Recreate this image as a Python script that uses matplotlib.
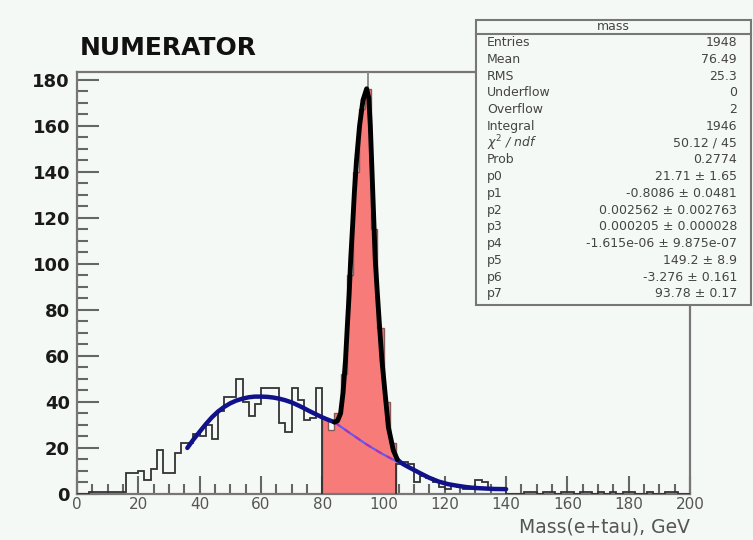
import matplotlib
matplotlib.use('Agg')
import matplotlib.pyplot as plt
from matplotlib.patches import Rectangle
from matplotlib.ticker import MultipleLocator
import numpy as np

plt.rcParams['font.family'] = ['DejaVu Sans']

# histogram "mass": 100 bins of 2 GeV from 0 to 200
bin_edges = np.arange(0, 202, 2)
counts = [0, 0, 1, 1, 1, 1, 1, 1,
          9, 9, 10, 6, 11, 19, 9, 9, 18, 22, 22, 26,
          25, 30, 24, 36, 42, 42, 50, 40, 34, 39, 46, 46, 46, 31, 27, 46, 41, 32, 33, 46,
          33, 28, 35, 52, 95, 140, 167, 176, 115, 72, 40, 22,
          13, 14, 13, 5, 8, 7, 5, 3, 2, 4, 3, 2, 2, 6, 5, 2, 2, 2,
          0, 0, 0, 1, 1, 0, 1, 1, 0, 1, 1, 0, 1, 1, 0, 1, 0, 1, 0, 1,
          1, 0, 0, 1, 0, 0, 1, 1, 0, 0]
peak_lo, peak_hi = 80, 104   # filled region

# fit curve
bg_fit_x = [36, 38, 40, 42, 44, 46, 48, 50, 52, 54, 56, 58, 60, 62, 64, 66, 68,
            70, 72, 74, 76, 78, 80, 82, 84]
bg_fit_y = [20, 23.7, 27, 30.3, 33.3, 35.8, 37.8, 39.4, 40.6, 41.4, 42, 42.3, 42.3,
            42.2, 41.9, 41.4, 40.7, 39.8, 38.6, 37.3, 35.9, 34.6, 33.3, 32.2, 31.2]
peak_fit_x = [84, 85, 86, 86.8, 87.6, 88.2, 88.8, 89.3, 89.9, 90.5, 91.2, 92.2, 93.3,
              94.5, 95.2, 95.7, 96.5, 97.3, 98.0, 98.7, 99.5, 100.5, 101.6, 103.2, 104.5]
peak_fit_y = [31.2, 31.8, 35, 44, 58, 73, 87, 102, 116, 131, 145, 160, 171,
              176, 172, 160, 131, 102, 87, 73, 58, 44, 29, 19, 15]
tail_fit_x = [104.5, 106, 108, 110, 112, 115, 118, 121, 124, 127, 130, 133, 136, 140]
tail_fit_y = [15, 13.3, 11.8, 10.4, 9, 7, 5.4, 4.3, 3.6, 3.0, 2.6, 2.4, 2.2, 2.1]
under_x = [84, 89, 94.5, 99.5, 104.5]
under_y = [31.2, 26.5, 21.5, 17.5, 14]

stat_labels = ['Entries', 'Mean', 'RMS', 'Underflow', 'Overflow', 'Integral',
               r'$\chi^{2}$ / ndf', 'Prob', 'p0', 'p1', 'p2', 'p3', 'p4', 'p5', 'p6', 'p7']
stat_values = ['1948', '76.49', '25.3', '0', '2', '1946', '50.12 / 45', '0.2774',
               '21.71 ± 1.65', '-0.8086 ± 0.0481', '0.002562 ± 0.002763',
               '0.000205 ± 0.000028', '-1.615e-06 ± 9.875e-07', '149.2 ± 8.9',
               '-3.276 ± 0.161', '93.78 ± 0.17']

bg = '#f5f9f6'
W, H = 753, 540
fig = plt.figure(figsize=(7.53, 5.40), dpi=100, facecolor=bg)
ax = fig.add_axes([77 / W, 1 - 494 / H, (690 - 77) / W, (494 - 71.5) / H])
ax.set_facecolor(bg)

counts = np.array(counts, dtype=float)
edges = bin_edges
sel = (edges[:-1] >= peak_lo) & (edges[:-1] < peak_hi)
i0 = np.argmax(sel)
i1 = i0 + sel.sum()

# outline outside the filled region, thin grey/red inside it
ax.stairs(counts[:i0], edges[:i0 + 1], color='#333333', lw=1.3, zorder=3)
ax.stairs(counts[i1:], edges[i1:], color='#333333', lw=1.3, zorder=3)
ax.stairs(counts[i0:i1], edges[i0:i1 + 1], fill=True, color='#f77b78', zorder=2)
ax.stairs(counts[i0:i1], edges[i0:i1 + 1], baseline=0, color='#8a5a5a', lw=1.0, zorder=2.5)

# line from the maximum bin up to the frame
imax = np.argmax(counts)
xm = 0.5 * (edges[imax] + edges[imax + 1])
ax.plot([xm, xm], [counts[imax], 183.5], color='#888888', lw=1.3, zorder=3)

ax.plot(under_x, under_y, color='#5a5aff', lw=1.5, zorder=4)
ax.plot(under_x, under_y, color='#b030b0', lw=1.5, ls=(0, (3, 3)), zorder=4)
ax.plot(bg_fit_x, bg_fit_y, color='#11118a', lw=3.2, zorder=5, solid_capstyle='round')
ax.plot(tail_fit_x, tail_fit_y, color='#11118a', lw=3.2, zorder=5, solid_capstyle='round')
ax.plot(peak_fit_x, peak_fit_y, color='black', lw=3.5, zorder=6, solid_capstyle='round')

ax.set_xlim(0, 200)
ax.set_ylim(0, 183.5)
ax.xaxis.set_major_locator(MultipleLocator(20))
ax.xaxis.set_minor_locator(MultipleLocator(5))
ax.yaxis.set_major_locator(MultipleLocator(20))
ax.yaxis.set_minor_locator(MultipleLocator(5))
ax.tick_params(which='both', direction='in', color='#666666', width=1.5,
               top=False, right=False)
ax.tick_params(axis='y', which='major', length=16, pad=5, labelsize=13, labelcolor='#1a1a1a')
ax.tick_params(axis='y', which='minor', length=8)
ax.tick_params(axis='x', which='major', length=13, pad=2.5, labelsize=11, labelcolor='#555555')
ax.tick_params(axis='x', which='minor', length=7)
for lab in ax.get_yticklabels():
    lab.set_fontweight('bold')
for sp in ax.spines.values():
    sp.set_color('#777777')
    sp.set_linewidth(1.6)

fig.text(690 / W, 1 - 527 / H, 'Mass(e+tau), GeV', ha='right', va='center',
         fontsize=13.5, color='#555555')
fig.text(80 / W, 1 - 55 / H, 'NUMERATOR', ha='left', va='baseline',
         fontsize=18, fontweight='bold', color='#111111')

# stats box
box = Rectangle((476 / W, 1 - 305 / H), (751 - 476) / W, (305 - 20) / H,
                transform=fig.transFigure, facecolor=bg, edgecolor='#777777',
                lw=1.5, zorder=5)
fig.patches.append(box)
fig.add_artist(plt.Line2D([476 / W, 751 / W], [1 - 33.5 / H, 1 - 33.5 / H],
                          color='#777777', lw=1.5, zorder=6))
fig.text(613 / W, 1 - 26 / H, 'mass', ha='center', va='center', fontsize=9,
         color='#444444', zorder=7)
for i, (lab, val) in enumerate(zip(stat_labels, stat_values)):
    y = 1 - (42.7 + i * 16.75) / H
    fig.text(487 / W, y, lab, ha='left', va='center', fontsize=9, color='#444444',
             style='italic' if i == 6 else 'normal', zorder=7)
    fig.text(737 / W, y, val, ha='right', va='center', fontsize=9, color='#444444', zorder=7)

fig.savefig('out.png', dpi=100, facecolor=bg)
